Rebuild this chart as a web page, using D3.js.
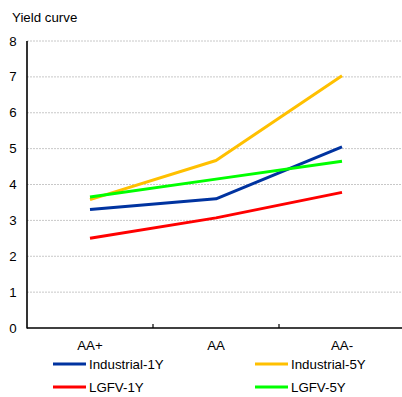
<!DOCTYPE html>
<html><head><meta charset="utf-8">
<script src="https://cdn.jsdelivr.net/npm/d3@7"></script>
<style>body{margin:0;background:#fff}svg{display:block;font-family:"Liberation Sans",Arial,sans-serif}</style>
</head><body><svg id="c" width="402" height="397"></svg>
<script>
const categories = ["AA+", "AA", "AA-"];
const seriesNames = ["Industrial-1Y", "Industrial-5Y", "LGFV-1Y", "LGFV-5Y"];
const industrial1Y = [3.3, 3.6, 5.05];
const industrial5Y = [3.58, 4.67, 7.03];
const lgfv1Y = [2.5, 3.07, 3.78];
const lgfv5Y = [3.65, 4.15, 4.65];
const yTicks = [0, 1, 2, 3, 4, 5, 6, 7, 8];
const colors = ["#0033a0", "#ffc000", "#ff0000", "#00ff00"];
const series = [industrial1Y, industrial5Y, lgfv1Y, lgfv5Y];

const svg = d3.select("#c");
const L = 27, R = 405, T = 41, B = 328;
const FS = 13.3;
const x = d3.scaleBand().domain(categories).range([L, R]);
const y = d3.scaleLinear().domain([0, 8]).range([B, T]);

svg.append("text").attr("x", 12).attr("y", 22).attr("font-size", FS).text("Yield curve");

// gridlines
svg.append("g").selectAll("line").data(yTicks.filter(d => d > 0)).join("line")
  .attr("x1", L).attr("x2", R).attr("y1", d => y(d)).attr("y2", d => y(d))
  .attr("stroke", "#c8c8c8").attr("stroke-width", 1).attr("stroke-dasharray", "2,1");

// y labels
svg.append("g").selectAll("text").data(yTicks).join("text")
  .attr("x", 13).attr("y", d => y(d) + 4.5).attr("text-anchor", "middle")
  .attr("font-size", FS).text(d => d);

// lines
const line = d3.line().x((d, i) => x(categories[i]) + x.bandwidth() / 2).y(d => y(d));
svg.append("g").selectAll("path").data(series).join("path")
  .attr("d", line).attr("fill", "none").attr("stroke", (d, i) => colors[i])
  .attr("stroke-width", 3).attr("stroke-linejoin", "round");

// axes
svg.append("line").attr("x1", L).attr("x2", L).attr("y1", T).attr("y2", B + 0.5)
  .attr("stroke", "#000").attr("stroke-width", 1.6);
svg.append("line").attr("x1", L).attr("x2", R).attr("y1", B).attr("y2", B)
  .attr("stroke", "#000").attr("stroke-width", 1.6);
svg.append("g").selectAll("line").data(categories.slice(1)).join("line")
  .attr("x1", d => x(d)).attr("x2", d => x(d)).attr("y1", B).attr("y2", B - 4)
  .attr("stroke", "#000").attr("stroke-width", 1.2);

// category labels
svg.append("g").selectAll("text").data(categories).join("text")
  .attr("x", d => x(d) + x.bandwidth() / 2).attr("y", 350).attr("text-anchor", "middle")
  .attr("font-size", FS).text(d => d);

// legend
const lg = svg.append("g").selectAll("g").data(seriesNames).join("g")
  .attr("transform", (d, i) => `translate(${i % 2 === 0 ? 53 : 255},${i < 2 ? 364 : 387})`);
lg.append("line").attr("x1", 0).attr("x2", 33).attr("y1", 0).attr("y2", 0)
  .attr("stroke", (d, i) => colors[i]).attr("stroke-width", 3);
lg.append("text").attr("x", 36).attr("y", 4.7).attr("font-size", FS).text(d => d);
</script></body></html>
